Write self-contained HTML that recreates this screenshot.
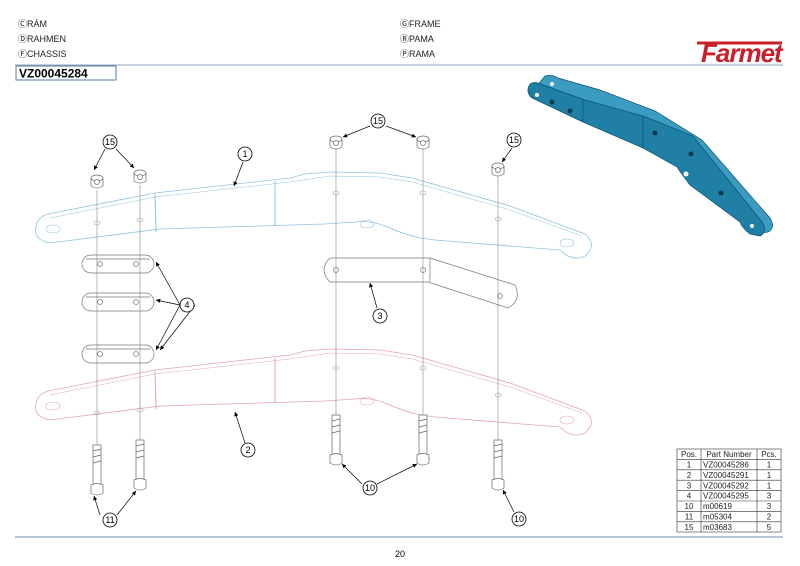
<!DOCTYPE html>
<html><head><meta charset="utf-8"><style>
body{margin:0;background:#fff;}
svg{display:block;font-family:"Liberation Sans",sans-serif;}
</style></head><body>
<svg width="800" height="566" viewBox="0 0 800 566" xmlns="http://www.w3.org/2000/svg">
<defs>
<g id="fr">
<path d="M48,214 L155,193 L290,178 L305,174 L330,172 L380,173 L412,178 L510,206 L585,234 Q598,245 585,256 Q572,262 560,250 L435,240 L420,238 Q400,233 385,226 Q370,220 355,222 L325,224 L160,229 L50,243 Q33,240 36,226 Q38,217 48,214 Z" fill="none" stroke-width="0.8"/>
<path d="M50,218 L155,197 L290,182 L330,176 L380,177 L412,182 L510,210 L582,236" fill="none" stroke-width="0.5"/>
<line x1="155" y1="194" x2="156" y2="232" stroke-width="1"/>
<line x1="275" y1="181" x2="275" y2="226" stroke-width="1"/>
<ellipse cx="53" cy="229" rx="7" ry="4" fill="none" stroke-width="0.6"/>
<ellipse cx="367" cy="224" rx="7" ry="4" fill="none" stroke-width="0.6"/>
<ellipse cx="567" cy="243" rx="7" ry="4" fill="none" stroke-width="0.6"/>
</g>
<g id="plate" fill="none" stroke="#777" stroke-width="0.7">
<rect x="0" y="0" width="72" height="18" rx="9"/>
<path d="M4,4 L68,4"/>
<circle cx="18" cy="9" r="2.5"/><circle cx="54" cy="9" r="2.5"/>
</g>
<g id="nut" fill="#fff" stroke="#666" stroke-width="0.7">
<path d="M-6,-4 L-6,4 Q0,8 6,4 L6,-4 Q0,-8 -6,-4 Z"/>
<ellipse cx="0" cy="-4" rx="6" ry="3"/><circle cx="0" cy="0" r="2.5"/>
</g>
<g id="bolt" fill="#fff" stroke="#666" stroke-width="0.7">
<rect x="-4" y="-40" width="8" height="40"/>
<path d="M-6,0 L-6,8 Q0,12 6,8 L6,0 Q0,-3 -6,0 Z"/>
<path d="M-4,-34 L4,-36 M-4,-28 L4,-30 M-4,-22 L4,-24"/>
</g>
<marker id="ar" viewBox="0 0 6 6" refX="6" refY="3" markerWidth="6" markerHeight="6" orient="auto"><path d="M0,0 L6,3 L0,6 Z" fill="#000"/></marker>
</defs>

<g font-size="9" fill="#222">
<text x="18" y="27">ⒸRÁM</text>
<text x="18" y="42">ⒹRAHMEN</text>
<text x="18" y="57">ⒻCHASSIS</text>
<text x="400" y="27">ⒼFRAME</text>
<text x="400" y="42">ⓇPAMA</text>
<text x="400" y="57">ⓅRAMA</text>
</g>
<text x="701" y="62" font-size="26" font-weight="bold" font-style="italic" fill="#c8202a" letter-spacing="-1">Farmet</text>
<line x1="697" y1="43" x2="782" y2="43" stroke="#c8202a" stroke-width="3"/>
<line x1="15" y1="65" x2="783" y2="65" stroke="#8fa5bf" stroke-width="1"/>
<rect x="16" y="66" width="100" height="14" fill="#fff" stroke="#5a7aa0" stroke-width="1"/>
<text x="19" y="77.5" font-size="12" font-weight="bold">VZ00045284</text>

<!-- 3D part -->
<g stroke="#0d4f6b" stroke-width="0.7">
<path d="M545,76 Q552,74 558,78 L600,90 L655,111 L702,140 L770,218 Q776,228 768,232 L760,233 L693,140 L643,118 L585,102 L535,88 Z" fill="#3a9cc0"/>
<path d="M530,84 Q535,81 540,84 L585,100 L643,116 L693,136 L762,222 Q768,232 760,236 L750,234 Q742,228 740,222 L690,185 Q680,172 677,167 L643,148 L583,122 L532,98 Q525,92 530,84 Z" fill="#1f7fa5"/>
<line x1="583" y1="100" x2="583" y2="122"/><line x1="643" y1="116" x2="643" y2="148"/>
</g>
<g fill="#0d3a50"><circle cx="552" cy="102" r="2.5"/><circle cx="570" cy="111" r="2.5"/><circle cx="655" cy="133" r="2.5"/><circle cx="691" cy="154" r="2.5"/><circle cx="721" cy="193" r="2.5"/></g>
<g fill="#fff"><circle cx="537" cy="95" r="2"/><circle cx="552" cy="84" r="2"/><circle cx="686" cy="174" r="2.5"/><circle cx="752" cy="226" r="2"/></g>

<!-- frames -->
<use href="#fr" stroke="#8ec3dd"/>
<use href="#fr" stroke="#e4a3b8" transform="translate(0,177)"/>

<!-- vertical axes -->
<g stroke="#888" stroke-width="0.6">
<line x1="97" y1="190" x2="97" y2="470"/>
<line x1="140" y1="185" x2="140" y2="465"/>
<line x1="336" y1="145" x2="336" y2="440"/>
<line x1="423" y1="145" x2="423" y2="440"/>
<line x1="498" y1="172" x2="498" y2="470"/>
</g>
<g fill="none" stroke="#aaa" stroke-width="0.6">
<ellipse cx="97" cy="223" rx="3" ry="2"/><ellipse cx="140" cy="220" rx="3" ry="2"/>
<ellipse cx="336" cy="193" rx="3" ry="2"/><ellipse cx="423" cy="193" rx="3" ry="2"/><ellipse cx="498" cy="219" rx="3" ry="2"/>
<ellipse cx="97" cy="413" rx="3" ry="2"/><ellipse cx="140" cy="410" rx="3" ry="2"/>
<ellipse cx="336" cy="368" rx="3" ry="2"/><ellipse cx="423" cy="368" rx="3" ry="2"/><ellipse cx="498" cy="395" rx="3" ry="2"/>
</g>

<use href="#plate" x="82" y="255"/>
<use href="#plate" x="82" y="293"/>
<use href="#plate" x="82" y="345"/>
<g fill="none" stroke="#777" stroke-width="0.7">
<path d="M330,258 L430,258 L515,285 Q522,300 508,308 L428,282 L330,282 Q318,270 330,258 Z"/>
<path d="M430,258 L430,282"/>
<circle cx="336" cy="270" r="2.5"/><circle cx="423" cy="270" r="2.5"/><circle cx="500" cy="296" r="2.5"/>
</g>

<use href="#nut" x="97" y="182"/><use href="#nut" x="140" y="177"/>
<use href="#nut" x="336" y="143"/><use href="#nut" x="423" y="143"/><use href="#nut" x="498" y="170"/>
<use href="#bolt" x="97" y="485"/><use href="#bolt" x="140" y="480"/>
<use href="#bolt" x="336" y="455"/><use href="#bolt" x="423" y="455"/><use href="#bolt" x="498" y="480"/>

<!-- callouts -->
<g stroke="#000" stroke-width="0.7" fill="none" marker-end="url(#ar)">
<path d="M105,149 L94,170"/><path d="M116,149 L134,168"/>
<path d="M370,126 L343,137"/><path d="M386,126 L416,137"/>
<path d="M512,148 L502,162"/>
<path d="M243,162 L234,186"/>
<path d="M180,305 L156,262"/><path d="M180,305 L156,300"/><path d="M180,305 L156,350"/>
<path d="M195,305 L160,350"/>
<path d="M377,308 L370,283"/>
<path d="M245,443 L235,412"/>
<path d="M362,484 L342,464"/><path d="M377,484 L417,464"/>
<path d="M100,515 L94,496"/><path d="M117,515 L136,491"/>
<path d="M514,512 L503,490"/>
</g>
<g fill="#fff" stroke="#000" stroke-width="0.8">
<circle cx="110" cy="142" r="7"/><circle cx="378" cy="121" r="7"/><circle cx="514" cy="140" r="7"/>
<circle cx="245" cy="154" r="7"/><circle cx="187" cy="305" r="7"/><circle cx="380" cy="316" r="7"/>
<circle cx="248" cy="450" r="7"/><circle cx="370" cy="488" r="7"/><circle cx="110" cy="520" r="7"/><circle cx="519" cy="519" r="7"/>
</g>
<g font-size="9" text-anchor="middle">
<text x="110" y="145">15</text><text x="378" y="124">15</text><text x="514" y="143">15</text>
<text x="245" y="157">1</text><text x="187" y="308">4</text><text x="380" y="319">3</text>
<text x="248" y="453">2</text><text x="370" y="491">10</text><text x="110" y="523">11</text><text x="519" y="522">10</text>
</g>

<!-- table -->
<g stroke="#333" stroke-width="0.6" fill="none">
<rect x="677" y="449" width="104" height="83"/>
<line x1="701" y1="449" x2="701" y2="532"/><line x1="757" y1="449" x2="757" y2="532"/>
<line x1="677" y1="459.4" x2="781" y2="459.4"/><line x1="677" y1="469.8" x2="781" y2="469.8"/><line x1="677" y1="480.2" x2="781" y2="480.2"/><line x1="677" y1="490.6" x2="781" y2="490.6"/><line x1="677" y1="501" x2="781" y2="501"/><line x1="677" y1="511.4" x2="781" y2="511.4"/><line x1="677" y1="521.8" x2="781" y2="521.8"/>
</g>
<g font-size="8" fill="#222">
<g text-anchor="middle">
<text x="689" y="457">Pos.</text><text x="729" y="457">Part Number</text><text x="769" y="457">Pcs.</text>
<text x="689" y="467.5">1</text><text x="689" y="478">2</text><text x="689" y="488.3">3</text><text x="689" y="498.7">4</text><text x="689" y="509">10</text><text x="689" y="519.5">11</text><text x="689" y="530">15</text>
<text x="769" y="467.5">1</text><text x="769" y="478">1</text><text x="769" y="488.3">1</text><text x="769" y="498.7">3</text><text x="769" y="509">3</text><text x="769" y="519.5">2</text><text x="769" y="530">5</text></g>
<text x="703" y="467.5">VZ00045286</text><text x="703" y="478">VZ00045291</text><text x="703" y="488.3">VZ00045292</text><text x="703" y="498.7">VZ00045295</text><text x="703" y="509">m00619</text><text x="703" y="519.5">m05304</text><text x="703" y="530">m03683</text>
</g>
<line x1="15" y1="537" x2="783" y2="537" stroke="#8fa5bf" stroke-width="1.2"/>
<text x="400" y="557" font-size="9" text-anchor="middle">20</text>
</svg>
</body></html>
